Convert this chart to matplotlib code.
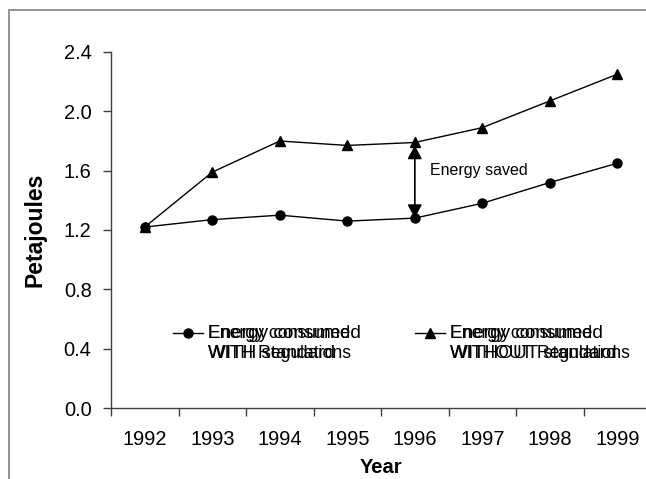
import numpy as np
import matplotlib
matplotlib.use('Agg')
import matplotlib.pyplot as plt
from matplotlib.lines import Line2D
from matplotlib.patches import Rectangle

plt.rcParams['font.family'] = 'Liberation Sans'

# Data
years = ['1992', '1993', '1994', '1995', '1996', '1997', '1998', '1999']
with_standard = [1.22, 1.27, 1.30, 1.26, 1.28, 1.38, 1.52, 1.65]
without_standard = [1.22, 1.59, 1.80, 1.77, 1.79, 1.89, 2.07, 2.25]
y_ticks = [0.0, 0.4, 0.8, 1.2, 1.6, 2.0, 2.4]
saved_year = '1996'
legend_a = ['Energy consumed\nWITH standard', 'Energy consumed\nWITHOUT standard']
legend_b = ['Energy consumed\nWITH Regulations', 'Energy consumed\nWITHOUT Regulations']

W, H = 646, 479


def fpos(x, y):
    # pixel position (from top-left) -> figure fraction
    return x / W, 1 - y / H


fig = plt.figure(figsize=(W / 100, H / 100), dpi=100)

# outer chart frame (cut off on the right and bottom in the original)
fig.add_artist(Rectangle(fpos(9, 560), 700 / W, 550 / H, transform=fig.transFigure,
                         fill=False, edgecolor='#808080', linewidth=1.2))

ax = fig.add_axes([111 / W, 1 - 408 / H, 540 / W, 356 / H])
ax.set_facecolor('none')
x = np.arange(len(years)) + 0.5

ax.plot(x, with_standard, color='black', lw=1, marker='o', ms=6.5, clip_on=False)
ax.plot(x, without_standard, color='black', lw=1, marker='^', ms=7, clip_on=False)

# double arrow showing energy saved
i = years.index(saved_year)
head = dict(arrowstyle='-|>,head_length=0.6,head_width=0.32',
            mutation_scale=14, color='black', lw=1, shrinkA=0, shrinkB=0)
ax.annotate('', xy=(x[i], with_standard[i]), xytext=(x[i], without_standard[i]),
            arrowprops=head)
ax.annotate('', xy=(x[i], without_standard[i] - 0.02), xytext=(x[i], with_standard[i]),
            arrowprops=head)
ax.text(x[i] + 0.23, (with_standard[i] + without_standard[i]) / 2 + 0.065, 'Energy saved',
        fontsize=11.5, ha='left', va='center')

ax.set_xlim(0, len(years))
ax.set_ylim(0, 2.4)
ax.set_yticks(y_ticks)
ax.set_yticklabels(['%.1f' % v for v in y_ticks], fontsize=14.4)
ax.set_xticks(np.arange(len(years) + 1))
ax.set_xticklabels([])
ax.set_xticks(x, minor=True)
ax.set_xticklabels(years, minor=True, fontsize=14.4)
ax.tick_params(axis='x', which='minor', length=0, pad=16)
ax.tick_params(axis='x', which='major', length=6, width=1, color='#404040')
ax.tick_params(axis='y', length=6, width=1, color='#404040', pad=8)

for s in ['top', 'right']:
    ax.spines[s].set_visible(False)
for s in ['left', 'bottom']:
    ax.spines[s].set_color('#404040')
    ax.spines[s].set_linewidth(1)

ax.set_xlabel('Year', fontsize=14.5, fontweight='bold', va='center')
ax.xaxis.set_label_coords(0.5, -0.168)
ax.set_ylabel('Petajoules', fontsize=16.5, fontweight='bold', va='center')
ax.yaxis.set_label_coords((35 - 111) / 540, 0.5)

# legend drawn by hand: two text layers overlap as in the original
entries = [(173, 203, 'o', 6.5), (415, 445, '^', 7)]
for (x0, x1, mk, ms), ta, tb in zip(entries, legend_a, legend_b):
    (fx0, fy), (fx1, _) = fpos(x0, 333), fpos(x1, 333)
    fig.add_artist(Line2D([fx0, fx1], [fy, fy], transform=fig.transFigure,
                          color='black', lw=1))
    fig.add_artist(Line2D([(fx0 + fx1) / 2], [fy], transform=fig.transFigure,
                          color='black', marker=mk, ms=ms))
    for txt, size in [(ta, 13.7), (tb, 12.7)]:
        for k, line in enumerate(txt.split('\n')):
            fx, fy2 = fpos(x1 + 5, 333 + 20 * k)
            fig.text(fx, fy2, line, fontsize=size, ha='left', va='center')

fig.savefig('out.png', dpi=100)
